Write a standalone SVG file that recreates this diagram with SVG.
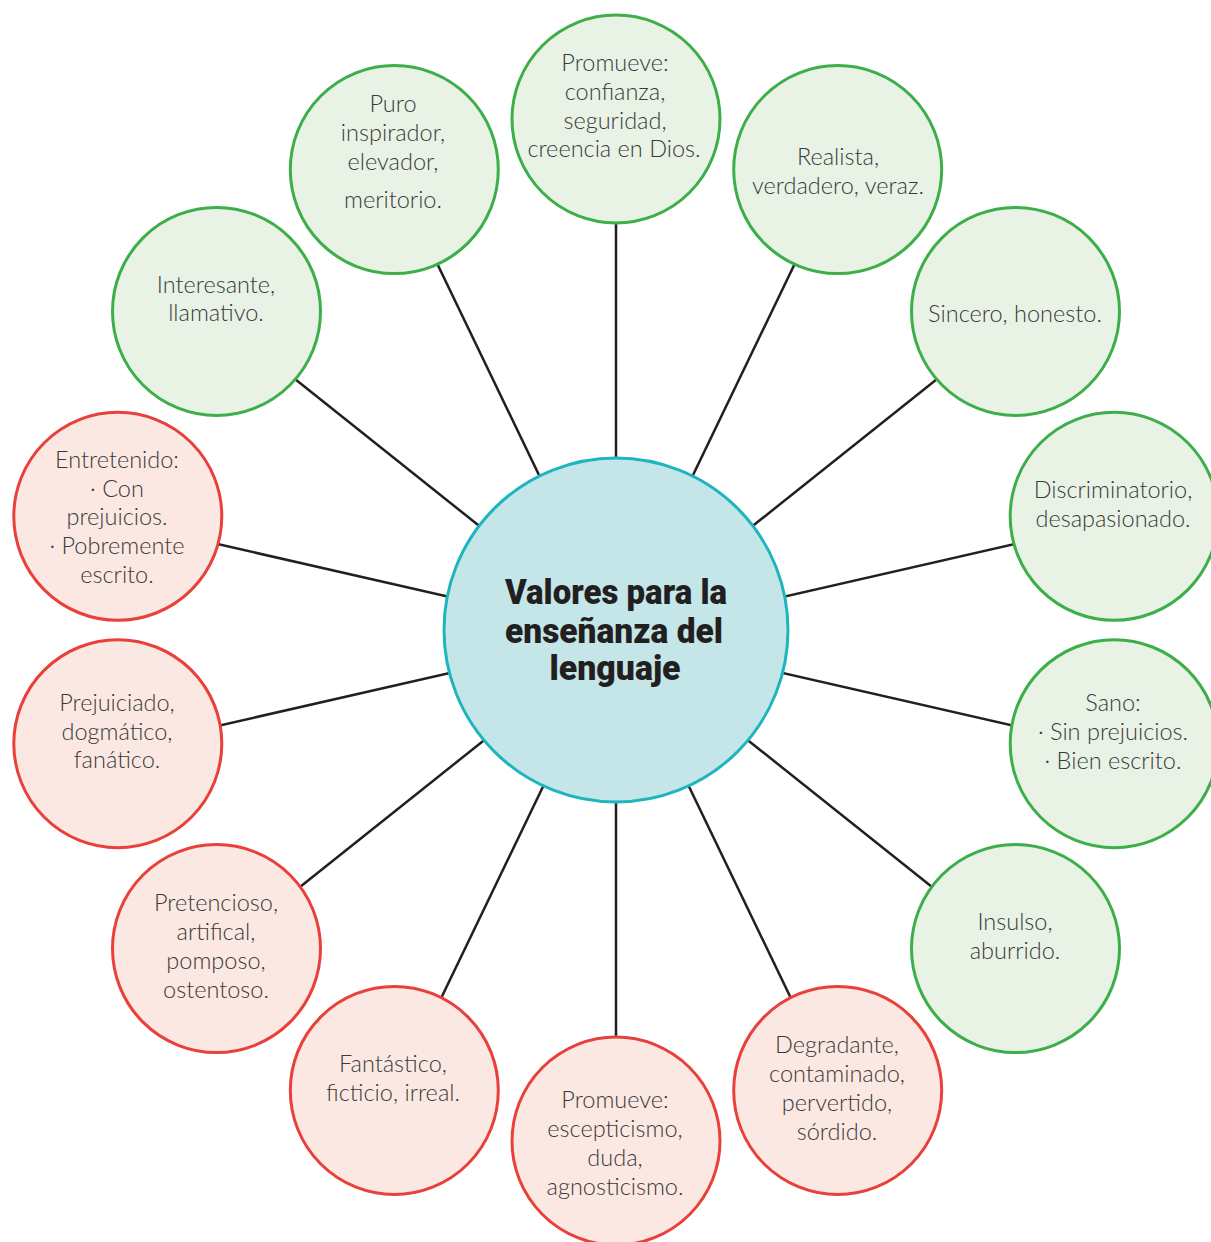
<svg xmlns="http://www.w3.org/2000/svg" width="1211" height="1242" viewBox="0 0 1211 1242">
<style>
.bg{fill:#ffffff}
.ln{stroke:#231f20;stroke-width:2.5;fill:none}
.g{fill:#e8f3e6;stroke:#3dae4a;stroke-width:3}
.r{fill:#fce8e2;stroke:#e8403a;stroke-width:3}
.c{fill:#c4e6e8;stroke:#1fb5bf;stroke-width:3}
.t{font-family:Lato,"Open Sans","Liberation Sans",sans-serif;font-weight:300;font-size:23.5px;fill:#3a3a3a;text-anchor:middle}
.h{font-family:Roboto,"Liberation Sans",sans-serif;font-weight:900;font-size:35px;fill:#231f20;text-anchor:middle}
</style>
<rect class="bg" x="0" y="0" width="1211" height="1242"/>
<g id="connectors" transform="translate(0,5)">
<line class="ln" x1="616" y1="630" x2="616" y2="119"/>
<line class="ln" x1="616" y1="630" x2="837.7" y2="169.6"/>
<line class="ln" x1="616" y1="630" x2="1015.5" y2="311.4"/>
<line class="ln" x1="616" y1="630" x2="1114.2" y2="516.3"/>
<line class="ln" x1="616" y1="630" x2="1114.2" y2="743.7"/>
<line class="ln" x1="616" y1="630" x2="1015.5" y2="948.6"/>
<line class="ln" x1="616" y1="630" x2="837.7" y2="1090.4"/>
<line class="ln" x1="616" y1="630" x2="616" y2="1141"/>
<line class="ln" x1="616" y1="630" x2="394.3" y2="1090.4"/>
<line class="ln" x1="616" y1="630" x2="216.5" y2="948.6"/>
<line class="ln" x1="616" y1="630" x2="117.8" y2="743.7"/>
<line class="ln" x1="616" y1="630" x2="117.8" y2="516.3"/>
<line class="ln" x1="616" y1="630" x2="216.5" y2="311.4"/>
<line class="ln" x1="616" y1="630" x2="394.3" y2="169.6"/>
</g>
<g id="center">
<circle class="c" cx="616" cy="630" r="172"/>
<text class="h" x="616" y="604" textLength="222" lengthAdjust="spacingAndGlyphs">Valores para la</text>
<text class="h" x="614" y="643" textLength="218" lengthAdjust="spacingAndGlyphs">enseñanza del</text>
<text class="h" x="615" y="680" textLength="131" lengthAdjust="spacingAndGlyphs">lenguaje</text>
</g>
<g id="n-promueve-top">
<circle class="g" cx="616" cy="119" r="104"/>
<text class="t" x="615" y="71">Promueve:</text>
<text class="t" x="615" y="100">confianza,</text>
<text class="t" x="615" y="129">seguridad,</text>
<text class="t" x="614" y="157">creencia en Dios.</text>
</g>
<g id="n-realista">
<circle class="g" cx="837.7" cy="169.6" r="104"/>
<text class="t" x="838" y="165">Realista,</text>
<text class="t" x="838" y="194">verdadero, veraz.</text>
</g>
<g id="n-sincero">
<circle class="g" cx="1015.5" cy="311.4" r="104"/>
<text class="t" x="1015" y="322">Sincero, honesto.</text>
</g>
<g id="n-discriminatorio">
<circle class="g" cx="1114.2" cy="516.3" r="104"/>
<text class="t" x="1113" y="498">Discriminatorio,</text>
<text class="t" x="1113" y="527">desapasionado.</text>
</g>
<g id="n-sano">
<circle class="g" cx="1114.2" cy="743.7" r="104"/>
<text class="t" x="1113" y="711">Sano:</text>
<text class="t" x="1113" y="740">· Sin prejuicios.</text>
<text class="t" x="1113" y="769">· Bien escrito.</text>
</g>
<g id="n-insulso">
<circle class="g" cx="1015.5" cy="948.6" r="104"/>
<text class="t" x="1015" y="930">Insulso,</text>
<text class="t" x="1015" y="959">aburrido.</text>
</g>
<g id="n-degradante">
<circle class="r" cx="837.7" cy="1090.4" r="104"/>
<text class="t" x="837" y="1053">Degradante,</text>
<text class="t" x="837" y="1082">contaminado,</text>
<text class="t" x="837" y="1111">pervertido,</text>
<text class="t" x="837" y="1140">sórdido.</text>
</g>
<g id="n-promueve-bottom">
<circle class="r" cx="616" cy="1141" r="104"/>
<text class="t" x="615" y="1108">Promueve:</text>
<text class="t" x="615" y="1137">escepticismo,</text>
<text class="t" x="615" y="1166">duda,</text>
<text class="t" x="615" y="1195">agnosticismo.</text>
</g>
<g id="n-fantastico">
<circle class="r" cx="394.3" cy="1090.4" r="104"/>
<text class="t" x="393" y="1072">Fantástico,</text>
<text class="t" x="393" y="1101">ficticio, irreal.</text>
</g>
<g id="n-pretencioso">
<circle class="r" cx="216.5" cy="948.6" r="104"/>
<text class="t" x="216" y="911">Pretencioso,</text>
<text class="t" x="216" y="940">artifical,</text>
<text class="t" x="216" y="969">pomposo,</text>
<text class="t" x="216" y="998">ostentoso.</text>
</g>
<g id="n-prejuiciado">
<circle class="r" cx="117.8" cy="743.7" r="104"/>
<text class="t" x="117" y="711">Prejuiciado,</text>
<text class="t" x="117" y="740">dogmático,</text>
<text class="t" x="117" y="768">fanático.</text>
</g>
<g id="n-entretenido">
<circle class="r" cx="117.8" cy="516.3" r="104"/>
<text class="t" x="117" y="468">Entretenido:</text>
<text class="t" x="117" y="497">· Con</text>
<text class="t" x="117" y="525">prejuicios.</text>
<text class="t" x="117" y="554">· Pobremente</text>
<text class="t" x="117" y="583">escrito.</text>
</g>
<g id="n-interesante">
<circle class="g" cx="216.5" cy="311.4" r="104"/>
<text class="t" x="216" y="293">Interesante,</text>
<text class="t" x="216" y="321">llamativo.</text>
</g>
<g id="n-puro">
<circle class="g" cx="394.3" cy="169.6" r="104"/>
<text class="t" x="393" y="112">Puro</text>
<text class="t" x="393" y="141">inspirador,</text>
<text class="t" x="393" y="170">elevador,</text>
<text class="t" x="393" y="208">meritorio.</text>
</g>
</svg>
